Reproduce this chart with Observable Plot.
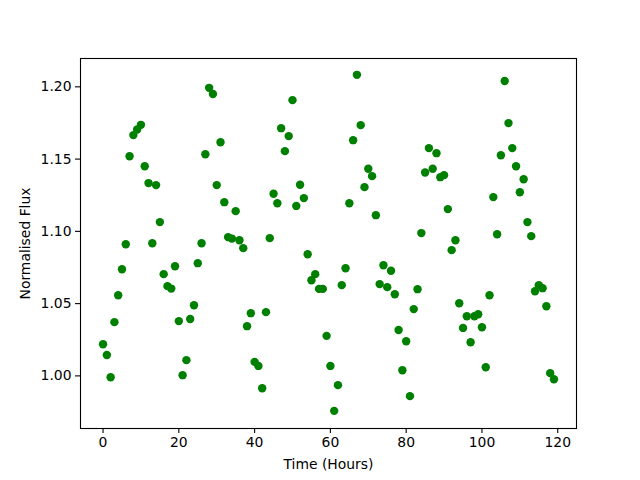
<!DOCTYPE html>
<html>
<head>
<meta charset="utf-8">
<script src="https://cdn.jsdelivr.net/npm/d3@7"></script>
<script src="https://cdn.jsdelivr.net/npm/@observablehq/plot@0.6"></script>
<style>
  html, body { margin: 0; padding: 0; background: white; }
</style>
</head>
<body>
<div id="chart"></div>
<script>
const hours = [0,1,2,3,4,5,6,7,8,9,10,11,12,13,14,15,16,17,18,19,
  20,21,22,23,24,25,26,27,28,29,30,31,32,33,34,35,36,37,38,39,
  40,41,42,43,44,45,46,47,48,49,50,51,52,53,54,55,56,57,58,59,
  60,61,62,63,64,65,66,67,68,69,70,71,72,73,74,75,76,77,78,79,
  80,81,82,83,84,85,86,87,88,89,90,91,92,93,94,95,96,97,98,99,
  100,101,102,103,104,105,106,107,108,109,110,111,112,113,114,115,116,117,118,119];

const flux = [1.0219,1.0145,0.9991,1.0372,1.0558,1.0738,1.0911,1.1520,1.1666,1.1705,
  1.1737,1.1451,1.1334,1.0918,1.1320,1.1064,1.0704,1.0621,1.0604,1.0759,
  1.0379,1.0005,1.0109,1.0394,1.0489,1.0780,1.0918,1.1534,1.1993,1.1950,
  1.1320,1.1617,1.1202,1.0960,1.0950,1.1140,1.0939,1.0884,1.0344,1.0434,
  1.0097,1.0069,0.9915,1.0441,1.0953,1.1260,1.1195,1.1714,1.1555,1.1659,
  1.1908,1.1176,1.1322,1.1230,1.0842,1.0662,1.0704,1.0602,1.0602,1.0277,
  1.0069,0.9758,0.9936,1.0628,1.0745,1.1195,1.1631,1.2083,1.1735,1.1306,
  1.1433,1.1382,1.1112,1.0635,1.0766,1.0614,1.0727,1.0565,1.0318,1.0039,
  1.0240,0.9860,1.0462,1.0600,1.0988,1.1407,1.1576,1.1433,1.1541,1.1375,
  1.1389,1.1154,1.0870,1.0939,1.0503,1.0332,1.0413,1.0233,1.0413,1.0427,
  1.0337,1.0060,1.0558,1.1237,1.0980,1.1527,1.2040,1.1749,1.1576,1.1451,
  1.1271,1.1361,1.1064,1.0967,1.0586,1.0628,1.0607,1.0482,1.0019,0.9977];

const xTicks = [0, 20, 40, 60, 80, 100, 120];
const yTicks = [1.00, 1.05, 1.10, 1.15, 1.20];

const data = hours.map((h, i) => ({hour: h, flux: flux[i]}));

const chart = Plot.plot({
  width: 640,
  height: 480,
  marginLeft: 80,
  marginRight: 64,
  marginTop: 58,
  marginBottom: 52,
  style: {
    fontFamily: "DejaVu Sans",
    fontSize: "13.9px",
    background: "white",
    color: "black"
  },
  x: { domain: [-5.95, 124.95] },
  y: { domain: [0.9636, 1.2196] },
  marks: [
    Plot.dot(data, {x: "hour", y: "flux", r: 4.2, fill: "green", stroke: "none"}),
    Plot.frame({stroke: "black", strokeWidth: 1.1}),
    Plot.axisX({
      ticks: xTicks,
      tickSize: 5,
      tickPadding: 4,
      strokeWidth: 1.1,
      label: "Time (Hours)",
      labelAnchor: "center",
      labelArrow: false,
      labelOffset: 40
    }),
    Plot.axisY({
      ticks: yTicks,
      tickFormat: d => d.toFixed(2),
      tickSize: 5,
      tickPadding: 4,
      strokeWidth: 1.1,
      label: "Normalised Flux",
      labelAnchor: "center",
      labelArrow: false,
      labelOffset: 60
    })
  ]
});

document.getElementById("chart").appendChild(chart);
</script>
</body>
</html>
